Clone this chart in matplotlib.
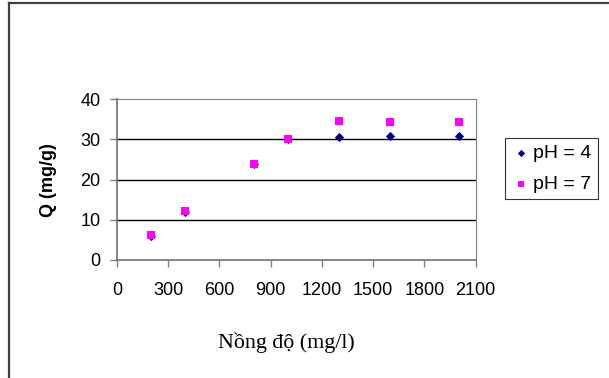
import matplotlib.pyplot as plt
from matplotlib.lines import Line2D

# --- Datos ---
nong_do = [200, 400, 800, 1000, 1300, 1600, 2000]
q_ph4 = [6.0, 12.0, 24.0, 30.0, 30.5, 30.8, 30.8]
q_ph7 = [6.1, 12.2, 24.0, 30.0, 34.7, 34.4, 34.4]
x_ticks = [0, 300, 600, 900, 1200, 1500, 1800, 2100]
y_ticks = [0, 10, 20, 30, 40]

plt.rcParams["font.family"] = ["Liberation Sans", "DejaVu Sans"]

fig = plt.figure(figsize=(6.09, 3.78), dpi=100)
ax = fig.add_axes([0.1921, 0.3122, 0.5890, 0.4251])

# marco exterior (solo izquierda y arriba)
fig.add_artist(Line2D([0.0148, 0.0148], [0.0, 0.992], color="#404040", lw=1.6,
                      transform=fig.transFigure))
fig.add_artist(Line2D([0.0148, 1.0], [0.992, 0.992], color="#404040", lw=1.6,
                      transform=fig.transFigure))

ax.scatter(nong_do, q_ph4, marker="D", s=22, color="#000080", label="pH = 4",
           zorder=3, linewidths=0)
ax.scatter(nong_do, q_ph7, marker="s", s=34, color="#FF00FF", label="pH = 7",
           zorder=4, linewidths=0)

ax.set_xlim(0, 2100)
ax.set_ylim(0, 40)
ax.set_xticks(x_ticks)
ax.set_yticks(y_ticks)
ax.tick_params(direction="out", length=5, width=1, colors="#808080",
               labelcolor="black", labelsize=13)
ax.tick_params(axis="x", pad=11)
ax.tick_params(axis="y", pad=7)

for y in [10, 20, 30]:
    ax.axhline(y, color="black", lw=1, zorder=1)

for s in ["top", "right"]:
    ax.spines[s].set_color("#808080")
for s in ["left", "bottom"]:
    ax.spines[s].set_color("#707070")
    ax.spines[s].set_linewidth(1.2)

ax.set_ylabel("Q (mg/g)", fontsize=13, fontweight="bold")
ax.yaxis.set_label_coords(-0.167, 0.5)
fig.text(0.471, 0.092, "Nồng độ (mg/l)", ha="center", va="center",
         fontsize=15.8, family=["Liberation Serif", "DejaVu Serif"])

leg = fig.legend(loc="upper left", bbox_to_anchor=(0.829, 0.635),
                 fontsize=14, frameon=True, fancybox=False,
                 edgecolor="black", handletextpad=0.1, borderpad=0.35,
                 labelspacing=0.65, handlelength=1.0, borderaxespad=0,
                 markerscale=0.8)
leg.get_frame().set_linewidth(0.8)

plt.savefig("out.png", dpi=100)
